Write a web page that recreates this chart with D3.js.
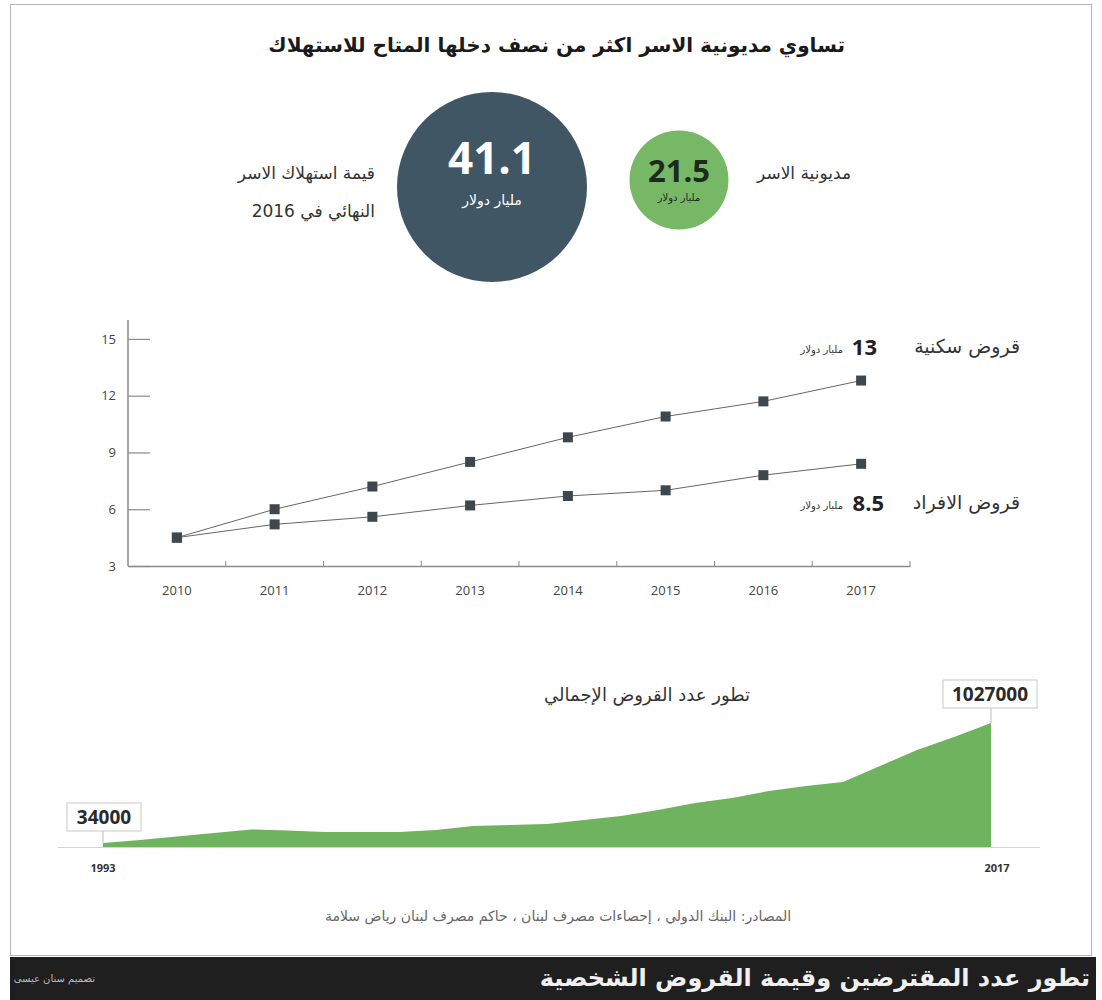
<!DOCTYPE html>
<html>
<head>
<meta charset="utf-8">
<script src="https://cdn.jsdelivr.net/npm/d3@7"></script>
<style>
  body { margin: 0; background: #fff; }
</style>
</head>
<body>
<script>
// ---- data ----
let years = ["2010", "2011", "2012", "2013", "2014", "2015", "2016", "2017"];
let housingLoans = [4.5, 6.0, 7.2, 8.5, 9.8, 10.9, 11.7, 12.8];
let personalLoans = [4.5, 5.2, 5.6, 6.2, 6.7, 7.0, 7.8, 8.4];
let yTicks = [3, 6, 9, 12, 15];

let loanYears = [1993, 1994, 1995, 1996, 1997, 1998, 1999, 2000, 2001, 2002, 2003, 2004, 2005,
    2006, 2007, 2008, 2009, 2010, 2011, 2012, 2013, 2014, 2015, 2016, 2017];
let loanCounts = [34000, 58000, 87000, 116000, 145000, 137000, 124000, 124000, 124000, 141000, 174000, 182000, 190000,
    224000, 257000, 306000, 364000, 406000, 464000, 505000, 538000, 671000, 803000, 911000, 1027000];

let bubbleLabels = ["قيمة استهلاك الاسر", "مديونية الاسر"];
let bubbleValues = [41.1, 21.5];

let arFont = "'DejaVu Sans', sans-serif";
let numFont = "'Open Sans', 'DejaVu Sans', sans-serif";

let svgWidth = 1102;
let svgHeight = 1000;

let svg = d3.select("body")
    .append("svg")
    .attr("width", svgWidth)
    .attr("height", svgHeight)

// frame
svg.append("rect")
    .attr("x", 10.5).attr("y", 4.5)
    .attr("width", 1081).attr("height", 951)
    .attr("fill", "none")
    .attr("stroke", "#b5b5b5")

svg.append("text")
    .attr("x", 845).attr("y", 52)
    .attr("direction", "rtl")
    .attr("text-anchor", "start")
    .attr("font-family", arFont)
    .attr("font-weight", "bold")
    .attr("font-size", 20)
    .attr("fill", "#1a1a1a")
    .text("تساوي مديونية الاسر اكثر من نصف دخلها المتاح للاستهلاك");

// ---- bubbles ----
let rScale = d3.scaleSqrt().domain([0, 41.1]).range([0, 95]);
let bubbles = [
    { cx: 492, cy: 187, v: bubbleValues[0], fill: "#415664", txt: "#fff", size: 44, sub: 14, dy: -13, sdy: 18 },
    { cx: 679, cy: 180, v: bubbleValues[1], fill: "#77b866", txt: "#1d2b1d", size: 31, sub: 10, dy: 2, sdy: 21 }
];
bubbles.forEach(function (b) {
    svg.append("circle")
        .attr("cx", b.cx).attr("cy", b.cy)
        .attr("r", rScale(b.v) * (b.v == 21.5 ? 0.72 : 1))
        .attr("fill", b.fill)
    svg.append("text")
        .attr("x", b.cx).attr("y", b.cy + b.dy)
        .attr("text-anchor", "middle")
        .attr("font-family", numFont)
        .attr("font-weight", "bold")
        .attr("font-size", b.size)
        .attr("fill", b.txt)
        .text(b.v)
    svg.append("text")
        .attr("x", b.cx).attr("y", b.cy + b.sdy)
        .attr("direction", "rtl")
        .attr("text-anchor", "middle")
        .attr("font-family", arFont)
        .attr("font-size", b.sub)
        .attr("fill", b.txt)
        .text("مليار دولار")
})

svg.append("text")
    .attr("x", 375).attr("y", 179)
    .attr("direction", "rtl").attr("text-anchor", "start")
    .attr("font-family", arFont).attr("font-size", 17).attr("fill", "#333")
    .text(bubbleLabels[0]);
svg.append("text")
    .attr("x", 375).attr("y", 217)
    .attr("direction", "rtl").attr("text-anchor", "start")
    .attr("font-family", arFont).attr("font-size", 17).attr("fill", "#333")
    .text("النهائي في 2016");
svg.append("text")
    .attr("x", 851).attr("y", 179)
    .attr("direction", "rtl").attr("text-anchor", "start")
    .attr("font-family", arFont).attr("font-size", 17).attr("fill", "#333")
    .text(bubbleLabels[1]);

// ---- line chart ----
let xBand = d3.scaleBand().domain(years).range([128, 910]);
let yLinear = d3.scaleLinear().domain([3, 16]).range([566, 320]);

let lineGroup = svg.append("g");

lineGroup.append("line")
    .attr("x1", 128).attr("x2", 128)
    .attr("y1", yLinear(16)).attr("y2", yLinear(3))
    .attr("stroke", "#8a8a8a").attr("stroke-width", 1.5)

let leftAxis = d3.axisRight(yLinear).tickValues(yTicks).tickSize(22).tickFormat(d => d);
lineGroup.append("g")
    .attr("transform", "translate(128,0)")
    .call(leftAxis)
    .call(g => g.select(".domain").remove())
    .call(g => g.selectAll("line").attr("stroke", "#8a8a8a").attr("stroke-width", 1.2))
    .call(g => g.selectAll("text")
        .attr("x", -12).attr("text-anchor", "end")
        .attr("font-family", numFont).attr("font-size", 13).attr("fill", "#444"))

let bottomAxis = d3.axisBottom(xBand).tickSize(0).tickPadding(20);
lineGroup.append("g")
    .attr("transform", `translate(0,${yLinear(3)})`)
    .call(bottomAxis)
    .call(g => g.select(".domain").attr("stroke", "#8a8a8a").attr("stroke-width", 1.5))
    .call(g => g.selectAll("text")
        .attr("font-family", numFont).attr("font-size", 13).attr("fill", "#444"))

// small separators between years
lineGroup.selectAll(".sep")
    .data(years.slice(1).map(y => xBand(y)).concat([xBand.range()[1]]))
    .enter()
    .append("line")
    .attr("x1", d => d).attr("x2", d => d)
    .attr("y1", yLinear(3)).attr("y2", yLinear(3) - 5)
    .attr("stroke", "#8a8a8a")

let cx = d => xBand(d) + xBand.bandwidth() / 2;
let seriesList = [housingLoans, personalLoans];
seriesList.forEach(function (vals) {
    let line = d3.line()
        .x((d, i) => cx(years[i]))
        .y(d => yLinear(d));
    lineGroup.append("path")
        .datum(vals)
        .attr("d", line)
        .attr("fill", "none")
        .attr("stroke", "#666")
        .attr("stroke-width", 1)
    lineGroup.selectAll(null)
        .data(vals)
        .enter()
        .append("rect")
        .attr("x", (d, i) => cx(years[i]) - 5)
        .attr("y", d => yLinear(d) - 5)
        .attr("width", 10).attr("height", 10)
        .attr("fill", "#3e474e")
})

let seriesLabels = [
    { name: "قروض سكنية", val: "13", y: 347, vx: 877 },
    { name: "قروض الافراد", val: "8.5", y: 503, vx: 884 }
];
seriesLabels.forEach(function (s) {
    lineGroup.append("text")
        .attr("x", 1020).attr("y", s.y + 6)
        .attr("direction", "rtl").attr("text-anchor", "start")
        .attr("font-family", arFont).attr("font-size", 19).attr("fill", "#333")
        .text(s.name)
    lineGroup.append("text")
        .attr("x", s.vx).attr("y", s.y + 8)
        .attr("text-anchor", "end")
        .attr("font-family", numFont).attr("font-weight", "bold")
        .attr("font-size", 22).attr("fill", "#222")
        .text(s.val)
    lineGroup.append("text")
        .attr("x", 843).attr("y", s.y + 6)
        .attr("direction", "rtl").attr("text-anchor", "start")
        .attr("font-family", arFont).attr("font-size", 10).attr("fill", "#333")
        .text("مليار دولار")
})

// ---- area chart ----
let xArea = d3.scaleLinear().domain([1993, 2017]).range([103, 991]);
let yArea = d3.scaleLinear().domain([0, 1027000]).range([847, 723]);

let areaGroup = svg.append("g");

areaGroup.append("path")
    .datum(loanCounts)
    .attr("d", d3.area()
        .x((d, i) => xArea(loanYears[i]))
        .y0(yArea(0))
        .y1(d => yArea(d)))
    .attr("fill", "#6fb35f")

areaGroup.append("line")
    .attr("x1", 58).attr("x2", 1040)
    .attr("y1", yArea(0) + 0.5).attr("y2", yArea(0) + 0.5)
    .attr("stroke", "#d5d5d5")

let endLabels = [
    { year: 1993, val: 34000, bx: 67, by: 803, bw: 74 },
    { year: 2017, val: 1027000, bx: 943, by: 680, bw: 94 }
];
endLabels.forEach(function (e) {
    areaGroup.append("line")
        .attr("x1", xArea(e.year)).attr("x2", xArea(e.year))
        .attr("y1", e.by + 28).attr("y2", yArea(e.val))
        .attr("stroke", "#bbb")
    areaGroup.append("rect")
        .attr("x", e.bx).attr("y", e.by)
        .attr("width", e.bw).attr("height", 28)
        .attr("fill", "#fff")
        .attr("stroke", "#c8c8c8")
    areaGroup.append("text")
        .attr("x", e.bx + e.bw / 2).attr("y", e.by + 21)
        .attr("text-anchor", "middle")
        .attr("font-family", numFont).attr("font-weight", "bold")
        .attr("font-size", 19).attr("fill", "#2a2a2a")
        .text(e.val)
    areaGroup.append("text")
        .attr("x", xArea(e.year) + (e.year == 2017 ? 6 : 0)).attr("y", 872)
        .attr("text-anchor", "middle")
        .attr("font-family", numFont).attr("font-weight", "bold")
        .attr("font-size", 11).attr("fill", "#333")
        .text(e.year)
})

areaGroup.append("text")
    .attr("x", 750).attr("y", 701)
    .attr("direction", "rtl").attr("text-anchor", "start")
    .attr("font-family", arFont).attr("font-size", 18).attr("fill", "#333")
    .text("تطور عدد القروض الإجمالي")

// source
svg.append("text")
    .attr("x", 558).attr("y", 921)
    .attr("direction", "rtl").attr("text-anchor", "middle")
    .attr("font-family", arFont).attr("font-size", 14).attr("fill", "#666")
    .text("المصادر: البنك الدولي ، إحصاءات مصرف لبنان ، حاكم مصرف لبنان رياض سلامة")

// ---- footer ----
svg.append("rect")
    .attr("x", 10).attr("y", 957)
    .attr("width", 1086).attr("height", 43)
    .attr("fill", "#1f1f1f")
svg.append("text")
    .attr("x", 1090).attr("y", 986)
    .attr("direction", "rtl").attr("text-anchor", "start")
    .attr("font-family", arFont).attr("font-weight", "bold")
    .attr("font-size", 24).attr("fill", "#f0f0f0")
    .text("تطور عدد المقترضين وقيمة القروض الشخصية")
svg.append("text")
    .attr("x", 95).attr("y", 982)
    .attr("direction", "rtl").attr("text-anchor", "start")
    .attr("font-family", arFont).attr("font-size", 10).attr("fill", "#bbb")
    .text("تصميم سنان عيسى")
</script>
</body>
</html>
